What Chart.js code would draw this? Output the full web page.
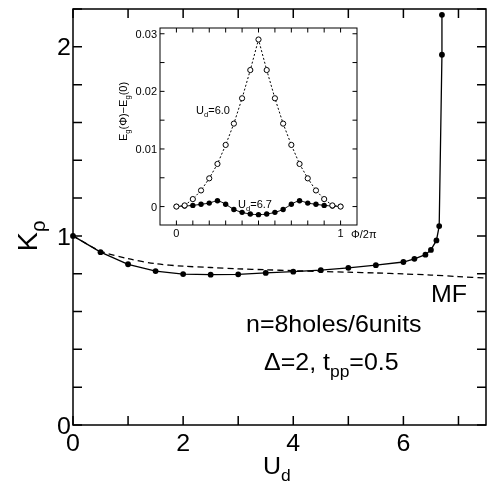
<!DOCTYPE html>
<html>
<head>
<meta charset="utf-8">
<script src="https://cdn.jsdelivr.net/npm/chart.js@4/dist/chart.umd.min.js"></script>
<style>
  html, body { margin: 0; padding: 0; background: #fff; overflow: hidden; }
  #wrap { position: relative; width: 490px; height: 482px; }
  #wrap canvas { position: absolute; left: 0; top: 0; }
</style>
</head>
<body>
<div id="wrap">
  <canvas id="main" width="490" height="482"></canvas>
  <canvas id="inset" width="490" height="482"></canvas>
</div>
<script>
// ---- K_rho versus U_d (exact diagonalisation) ----
const ud   = [0, 0.5, 1, 1.5, 2, 2.5, 3, 3.5, 4, 4.5, 5, 5.5, 6, 6.2, 6.4, 6.5, 6.6, 6.65, 6.7, 6.7];
const kRho = [1.0, 0.914, 0.850, 0.814, 0.798, 0.795, 0.797, 0.804, 0.811, 0.819, 0.831, 0.845, 0.862, 0.879, 0.901, 0.926, 0.976, 1.052, 1.958, 2.169];

// ---- mean-field curve ----
const udMF = [0, 0.5, 1, 1.5, 2, 2.5, 3, 3.5, 4, 4.5, 5, 5.5, 6, 6.5, 7, 7.5];
const kMF  = [1.0, 0.92, 0.88, 0.853, 0.84, 0.833, 0.826, 0.821, 0.816, 0.812, 0.808, 0.804, 0.799, 0.793, 0.785, 0.777];

// ---- main axes ticks ----
const udTicks  = [0, 1, 2, 3, 4, 5, 6, 7];
const udLabels = [0, 2, 4, 6];
const kTicks   = [0, 0.2, 0.4, 0.6, 0.8, 1.0, 1.2, 1.4, 1.6, 1.8, 2.0, 2.2];
const kLabels  = [0, 1, 2];

// ---- inset: E_g(Phi) - E_g(0) versus Phi/2pi ----
const phi  = [0, 0.05, 0.1, 0.15, 0.2, 0.25, 0.3, 0.35, 0.4, 0.45, 0.5, 0.55, 0.6, 0.65, 0.7, 0.75, 0.8, 0.85, 0.9, 0.95, 1.0];
const dE60 = [0, 0.0002, 0.0013, 0.0028, 0.0049, 0.0074, 0.0107, 0.0144, 0.0188, 0.0237, 0.0290,
              0.0237, 0.0188, 0.0144, 0.0107, 0.0074, 0.0049, 0.0028, 0.0013, 0.0002, 0];
const dE67 = [0, 0.0001, 0.0002, 0.0004, 0.0006, 0.0010, 0.0004, -0.0005, -0.0010, -0.0013, -0.0014,
              -0.0013, -0.0010, -0.0005, 0.0004, 0.0010, 0.0006, 0.0004, 0.0002, 0.0001, 0];

const phiTicks  = [0, 0.1, 0.2, 0.3, 0.4, 0.5, 0.6, 0.7, 0.8, 0.9, 1.0];
const phiLabels = [0, 1];
const dETicks   = [0, 0.005, 0.01, 0.015, 0.02, 0.025, 0.03];
const dELabels  = [0, 0.01, 0.02, 0.03];

const FAM = '"Liberation Sans", Arial, Helvetica, sans-serif';

// Draws a run of text pieces; pieces flagged as subscript are smaller and lowered.
function rich(ctx, parts, x, y, size, align, sx) {
  sx = sx || 1;
  ctx.save();
  ctx.textBaseline = 'alphabetic';
  ctx.textAlign = 'left';
  ctx.fillStyle = '#000';
  let w = 0;
  parts.forEach(p => {
    ctx.font = (p[1] ? size * 0.7 : size) + 'px ' + FAM;
    w += ctx.measureText(p[0]).width;
  });
  w *= sx;
  let x0 = align === 'center' ? x - w / 2 : (align === 'right' ? x - w : x);
  ctx.translate(x0, y);
  ctx.scale(sx, 1);
  let cx = 0;
  parts.forEach(p => {
    ctx.font = (p[1] ? size * 0.7 : size) + 'px ' + FAM;
    ctx.fillText(p[0], cx, p[1] ? size * 0.3 : 0);
    cx += ctx.measureText(p[0]).width;
  });
  ctx.restore();
}

function richRotated(ctx, parts, x, y, size, sx) {
  ctx.save();
  ctx.translate(x, y);
  ctx.rotate(-Math.PI / 2);
  rich(ctx, parts, 0, 0, size, 'center', sx);
  ctx.restore();
}

// Box frame with inward ticks on all four sides.
function frameAndTicks(chart, xt, yt, len, lw) {
  const { ctx, chartArea: a, scales } = chart;
  ctx.save();
  ctx.strokeStyle = '#000';
  ctx.lineWidth = lw;
  ctx.beginPath();
  xt.forEach(v => {
    const px = scales.x.getPixelForValue(v);
    ctx.moveTo(px, a.bottom); ctx.lineTo(px, a.bottom - len);
    ctx.moveTo(px, a.top);    ctx.lineTo(px, a.top + len);
  });
  yt.forEach(v => {
    const py = scales.y.getPixelForValue(v);
    ctx.moveTo(a.left, py);  ctx.lineTo(a.left + len, py);
    ctx.moveTo(a.right, py); ctx.lineTo(a.right - len, py);
  });
  ctx.stroke();
  ctx.strokeRect(a.left, a.top, a.right - a.left, a.bottom - a.top);
  ctx.restore();
}

const mainDecor = {
  id: 'mainDecor',
  afterDatasetsDraw(chart) {
    const { ctx, scales } = chart;
    frameAndTicks(chart, udTicks, kTicks, 9, 1.5);
    const S = 24, SX = 1.04;
    udLabels.forEach(v => rich(ctx, [[String(v)]], scales.x.getPixelForValue(v), 451, S, 'center', SX));
    kLabels.forEach(v => rich(ctx, [[String(v)]], 71, scales.y.getPixelForValue(v) + 8.6, S, 'right', SX));
    rich(ctx, [['U'], ['d', true]], 263, 473.5, S, 'left', SX);
    richRotated(ctx, [['K'], ['\u03c1', true]], 37, 236, 28, SX);
    rich(ctx, [['MF']], 431, 301.7, S, 'left', SX);
    rich(ctx, [['n=8holes/6units']], 246, 331.7, S, 'left', SX);
    rich(ctx, [['\u0394=2, t'], ['pp', true], ['=0.5']], 264, 370, S, 'left', SX);
  }
};

const insetDecor = {
  id: 'insetDecor',
  afterDatasetsDraw(chart) {
    const { ctx, scales } = chart;
    frameAndTicks(chart, phiTicks, dETicks, 4.5, 1);
    const S = 11;
    phiLabels.forEach(v => rich(ctx, [[String(v)]], scales.x.getPixelForValue(v), 236.5, S, 'center'));
    dELabels.forEach(v => rich(ctx, [[String(v)]], 157, scales.y.getPixelForValue(v) + 4, S, 'right'));
    rich(ctx, [['\u03a6/2\u03c0']], 351, 237.5, S, 'left');
    richRotated(ctx, [['E'], ['g', true], ['(\u03a6)\u2212E'], ['g', true], ['(0)']], 127, 111.5, S);
    rich(ctx, [['U'], ['d', true], ['=6.0']], 196, 114, S, 'left');
    rich(ctx, [['U'], ['d', true], ['=6.7']], 238, 207.5, S, 'left');
  }
};

const pts = (xs, ys) => xs.map((x, i) => ({ x: x, y: ys[i] }));

new Chart(document.getElementById('main'), {
  type: 'line',
  data: {
    datasets: [
      {
        data: pts(ud, kRho),
        borderColor: '#000', borderWidth: 1.3,
        pointRadius: 2.9, pointBackgroundColor: '#000', pointBorderColor: '#000', pointBorderWidth: 0,
        tension: 0, clip: false
      },
      {
        data: pts(udMF, kMF),
        borderColor: '#000', borderWidth: 1.3, borderDash: [6, 4],
        pointRadius: 0, tension: 0.3
      }
    ]
  },
  options: {
    responsive: false, animation: false, devicePixelRatio: 1,
    layout: { padding: { left: 73, right: 1, top: 9, bottom: 57 } },
    plugins: { legend: { display: false }, tooltip: { enabled: false } },
    scales: {
      x: { type: 'linear', min: 0, max: 7.5, display: false },
      y: { type: 'linear', min: 0, max: 2.2, display: false }
    }
  },
  plugins: [mainDecor]
});

new Chart(document.getElementById('inset'), {
  type: 'line',
  data: {
    datasets: [
      {
        data: pts(phi, dE60),
        borderColor: '#000', borderWidth: 1, borderDash: [2, 2],
        pointRadius: 2.6, pointBackgroundColor: '#fff', pointBorderColor: '#000', pointBorderWidth: 1,
        tension: 0
      },
      {
        data: pts(phi, dE67),
        borderColor: '#000', borderWidth: 1,
        pointRadius: 2.7, pointBackgroundColor: '#000', pointBorderColor: '#000', pointBorderWidth: 0,
        tension: 0.3
      }
    ]
  },
  options: {
    responsive: false, animation: false, devicePixelRatio: 1,
    layout: { padding: { left: 160, right: 133, top: 28, bottom: 257 } },
    plugins: { legend: { display: false }, tooltip: { enabled: false } },
    scales: {
      x: { type: 'linear', min: -0.1, max: 1.1, display: false },
      y: { type: 'linear', min: -0.0032, max: 0.031, display: false }
    }
  },
  plugins: [insetDecor]
});
</script>
</body>
</html>
